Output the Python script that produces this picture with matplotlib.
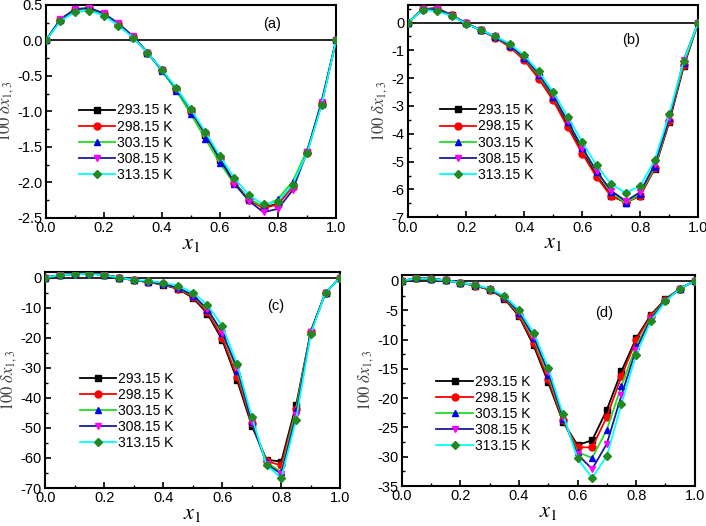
import numpy as np
import matplotlib
matplotlib.use("Agg")
import matplotlib.pyplot as plt
from matplotlib.ticker import MultipleLocator

plt.rcParams['font.family'] = ['Liberation Sans', 'DejaVu Sans']
plt.rcParams['mathtext.fontset'] = 'stix'

x1 = [0.0, 0.05, 0.1, 0.15, 0.2, 0.25, 0.3, 0.35, 0.4, 0.45, 0.5,
      0.55, 0.6, 0.65, 0.7, 0.75, 0.8, 0.85, 0.9, 0.95, 1.0]
labels = ['293.15 K', '298.15 K', '303.15 K', '308.15 K', '313.15 K']

# panel (a)
a_293 = [0, 0.29, 0.43, 0.45, 0.37, 0.23, 0.05, -0.17, -0.42, -0.69, -1.00, -1.33, -1.68, -2.00, -2.24, -2.35, -2.30, -2.05, -1.57, -0.89, 0]
a_298 = [0, 0.29, 0.43, 0.45, 0.37, 0.23, 0.05, -0.17, -0.42, -0.69, -0.99, -1.32, -1.66, -2.01, -2.25, -2.36, -2.31, -2.06, -1.58, -0.89, 0]
a_303 = [0, 0.29, 0.43, 0.45, 0.37, 0.23, 0.05, -0.17, -0.43, -0.71, -1.04, -1.39, -1.73, -2.02, -2.23, -2.34, -2.23, -1.99, -1.55, -0.90, 0]
a_308 = [0, 0.30, 0.44, 0.46, 0.38, 0.24, 0.06, -0.17, -0.42, -0.68, -0.98, -1.31, -1.66, -2.02, -2.26, -2.42, -2.37, -2.11, -1.57, -0.86, 0]
a_313 = [0, 0.27, 0.40, 0.42, 0.35, 0.21, 0.04, -0.17, -0.41, -0.67, -0.97, -1.29, -1.63, -1.94, -2.18, -2.31, -2.27, -2.03, -1.59, -0.91, 0]

# panel (b)
b_293 = [0, 0.48, 0.52, 0.27, -0.02, -0.28, -0.52, -0.85, -1.30, -1.95, -2.75, -3.68, -4.62, -5.50, -6.22, -6.48, -6.22, -5.25, -3.58, -1.58, 0]
b_298 = [0, 0.48, 0.50, 0.26, -0.03, -0.28, -0.54, -0.88, -1.35, -2.02, -2.80, -3.76, -4.71, -5.56, -6.25, -6.44, -6.23, -5.24, -3.55, -1.52, 0]
b_303 = [0, 0.47, 0.50, 0.26, -0.03, -0.27, -0.51, -0.83, -1.27, -1.90, -2.66, -3.56, -4.52, -5.38, -6.10, -6.50, -6.15, -5.20, -3.45, -1.45, 0]
b_308 = [0, 0.47, 0.48, 0.25, -0.03, -0.27, -0.50, -0.82, -1.25, -1.85, -2.62, -3.55, -4.50, -5.35, -6.05, -6.42, -6.10, -5.10, -3.45, -1.35, 0]
b_313 = [0, 0.46, 0.40, 0.24, -0.04, -0.27, -0.49, -0.76, -1.18, -1.76, -2.50, -3.38, -4.30, -5.14, -5.81, -6.12, -5.88, -4.94, -3.30, -1.38, 0]

# panel (c)
c_293 = [0, 0.8, 1.2, 1.4, 0.9, 0.0, -0.9, -1.5, -2.4, -3.8, -6.7, -12.0, -20.8, -34.0, -49.3, -60.6, -61.2, -42.5, -18.0, -5.0, 0]
c_298 = [0, 0.8, 1.2, 1.4, 0.9, 0.0, -0.9, -1.5, -2.3, -3.7, -6.4, -11.5, -20.0, -33.0, -48.5, -61.0, -62.5, -43.7, -18.0, -5.0, 0]
c_303 = [0, 0.8, 1.2, 1.3, 0.9, 0.0, -0.9, -1.4, -2.2, -3.5, -6.0, -10.8, -18.5, -31.0, -48.0, -61.5, -64.7, -44.0, -18.0, -5.0, 0]
c_308 = [0, 0.8, 1.2, 1.3, 0.9, 0.0, -0.8, -1.4, -2.1, -3.4, -5.8, -10.5, -18.3, -30.0, -48.0, -62.0, -65.3, -45.7, -18.0, -5.0, 0]
c_313 = [0, 0.8, 1.1, 1.2, 0.8, 0.0, -0.8, -1.1, -1.7, -2.7, -5.0, -9.1, -16.1, -28.6, -46.3, -62.3, -66.7, -47.4, -18.7, -5.0, 0]

# panel (d)
d_293 = [0, 0.45, 0.40, 0.10, -0.3, -0.8, -1.5, -3.0, -6.0, -11.0, -17.3, -24.0, -28.0, -27.2, -22.0, -15.4, -9.8, -5.8, -3.1, -1.3, 0]
d_298 = [0, 0.45, 0.40, 0.10, -0.3, -0.8, -1.5, -2.9, -5.8, -10.6, -16.8, -23.8, -28.4, -28.4, -23.2, -16.3, -10.1, -6.0, -3.2, -1.3, 0]
d_303 = [0, 0.45, 0.38, 0.10, -0.3, -0.7, -1.4, -2.8, -5.5, -9.8, -16.0, -23.5, -29.2, -30.2, -25.4, -17.9, -11.1, -6.3, -3.3, -1.3, 0]
d_308 = [0, 0.45, 0.38, 0.10, -0.3, -0.7, -1.4, -2.7, -5.3, -9.5, -15.5, -23.3, -29.6, -32.1, -27.8, -19.5, -11.7, -6.5, -3.4, -1.3, 0]
d_313 = [0, 0.45, 0.35, 0.10, -0.3, -0.7, -1.3, -2.55, -4.9, -8.8, -14.8, -22.7, -30.3, -33.6, -29.9, -21.0, -12.6, -6.9, -3.5, -1.3, 0]

line_colors = ['black', 'red', '#22dd22', '#1a1a99', 'cyan']
mark_colors = ['black', 'red', 'blue', 'magenta', '#1f8a1f']
markers = ['s', 'o', '^', 'v', 'D']

panels = [
    ([a_293, a_298, a_303, a_308, a_313], (-2.5, 0.5), 0.5, 0.25, '(a)', (0.78, 0.91),
     [0.065, 0.5856, 0.411, 0.405], (0.09, 0.57), '{:.1f}'),
    ([b_293, b_298, b_303, b_308, b_313], (-7, 0.62), 1, 0.5, '(b)', (0.77, 0.835),
     [0.578, 0.587, 0.411, 0.403], (0.085, 0.57), '{:.0f}'),
    ([c_293, c_298, c_303, c_308, c_313], (-70, 1.9), 10, 5, '(c)', (0.78, 0.84),
     [0.064, 0.0722, 0.418, 0.411], (0.095, 0.57), '{:.0f}'),
    ([d_293, d_298, d_303, d_308, d_313], (-35, 1.0), 5, 2.5, '(d)', (0.69, 0.82),
     [0.569, 0.076, 0.415, 0.401], (0.095, 0.56), '{:.0f}'),
]

fig = plt.figure(figsize=(7.06, 5.26), dpi=100)

for series, ylim, major, minor, tag, tagpos, rect, legpos, fmt in panels:
    ax = fig.add_axes(rect)
    ax.axhline(0, color='black', lw=1.2, zorder=1)
    for i, ys in enumerate(series):
        ax.plot(x1, ys, color=line_colors[i], lw=1.3, marker=markers[i],
                ms=5 if markers[i] != 'D' else 4.5, mfc=mark_colors[i],
                mec=mark_colors[i], label=labels[i], zorder=2 + i)
    ax.set_xlim(0, 1.0)
    ax.set_ylim(*ylim)
    ax.xaxis.set_minor_locator(MultipleLocator(0.1))
    ax.yaxis.set_minor_locator(MultipleLocator(minor))
    xt = np.arange(0, 1.01, 0.2)
    ax.set_xticks(xt)
    ax.set_xticklabels(['{:.1f}'.format(v) for v in xt])
    yt = [t for t in np.arange(ylim[0], ylim[1] + 1e-9, major)]
    ax.set_yticks(yt)
    ax.set_yticklabels([fmt.format(t) for t in yt])
    ax.tick_params(which='both', direction='in', labelsize=10.5, top=False, right=False)
    ax.tick_params(which='major', length=4, width=1.2, pad=2.5)
    ax.tick_params(which='minor', length=2.5, width=1)
    for s in ax.spines.values():
        s.set_linewidth(1.5)
    ax.set_xlabel(r'$x_1$', fontsize=16, labelpad=-2)
    ax.set_ylabel(r'$100\ \delta x_{1,3}$', fontsize=12, color='#444444', labelpad=1)
    ax.text(tagpos[0], tagpos[1], tag, transform=ax.transAxes, fontsize=10.5,
            ha='center', va='center')
    ax.legend(loc='upper left', bbox_to_anchor=legpos, frameon=False, fontsize=10,
              handlelength=2.6, handletextpad=0.15, labelspacing=0.15, borderpad=0)

fig.savefig('out.png', dpi=100)
